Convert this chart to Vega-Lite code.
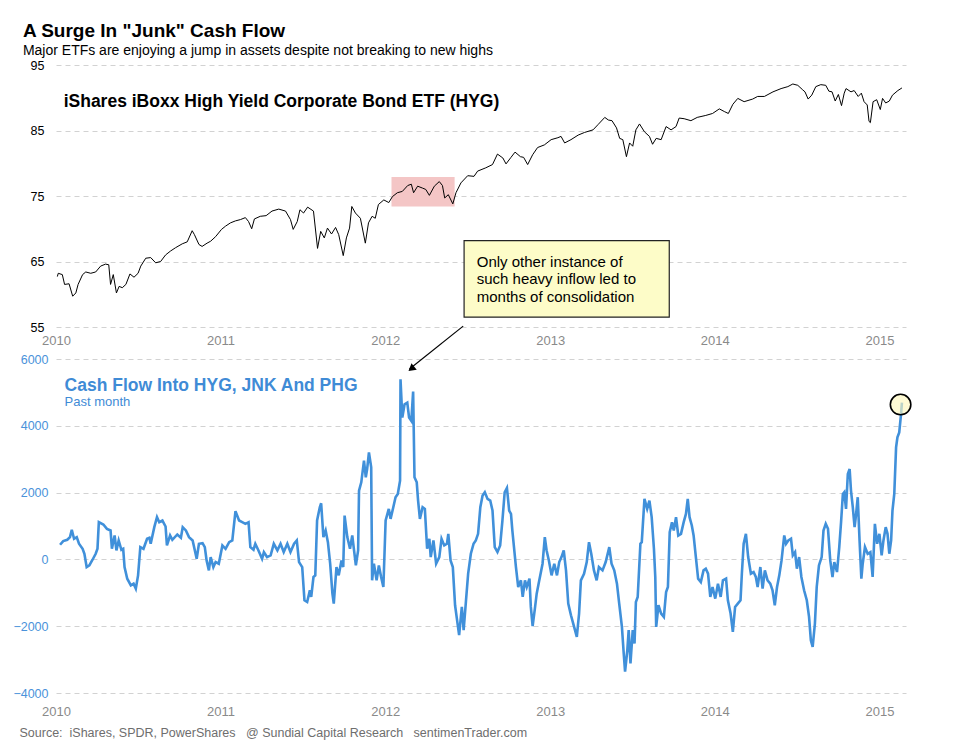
{
  "$schema": "https://vega.github.io/schema/vega-lite/v6.json",
  "description": "HYG price and cash flow into high yield ETFs, 2010-2015.",
  "padding": {"left": 12, "top": 22, "right": 8, "bottom": 10},
  "bounds": "flush",
  "spacing": 32,
  "title": {
    "text": "A Surge In \"Junk\" Cash Flow",
    "subtitle": "Major ETFs are enjoying a jump in assets despite not breaking to new highs",
    "anchor": "start",
    "frame": "bounds",
    "dx": 10,
    "font": "Liberation Sans",
    "fontSize": 19,
    "fontWeight": "bold",
    "color": "#000000",
    "subtitleFont": "Liberation Sans",
    "subtitleFontSize": 14,
    "subtitleColor": "#000000",
    "subtitlePadding": 3,
    "offset": 1
  },
  "datasets": {
    "hyg": [
      {"date": "2010-01-04", "v": 62.7}, {"date": "2010-01-06", "v": 63.2}, {"date": "2010-01-15", "v": 63.0},
      {"date": "2010-01-20", "v": 61.5}, {"date": "2010-01-30", "v": 61.6}, {"date": "2010-02-07", "v": 59.7},
      {"date": "2010-02-14", "v": 60.2}, {"date": "2010-02-19", "v": 61.5}, {"date": "2010-03-01", "v": 63.0},
      {"date": "2010-03-08", "v": 63.4}, {"date": "2010-03-19", "v": 63.2}, {"date": "2010-03-30", "v": 63.4},
      {"date": "2010-04-10", "v": 64.3}, {"date": "2010-04-21", "v": 64.6}, {"date": "2010-04-28", "v": 64.5},
      {"date": "2010-05-02", "v": 61.5}, {"date": "2010-05-08", "v": 63.0}, {"date": "2010-05-15", "v": 60.2},
      {"date": "2010-05-21", "v": 61.2}, {"date": "2010-05-28", "v": 61.0}, {"date": "2010-06-05", "v": 61.5},
      {"date": "2010-06-14", "v": 63.1}, {"date": "2010-06-23", "v": 62.6}, {"date": "2010-07-02", "v": 63.2},
      {"date": "2010-07-08", "v": 64.3}, {"date": "2010-07-19", "v": 65.5}, {"date": "2010-07-30", "v": 65.6},
      {"date": "2010-08-10", "v": 64.8}, {"date": "2010-08-21", "v": 65.0}, {"date": "2010-09-01", "v": 66.0},
      {"date": "2010-09-12", "v": 66.6}, {"date": "2010-09-23", "v": 67.1}, {"date": "2010-10-08", "v": 67.7},
      {"date": "2010-10-19", "v": 68.0}, {"date": "2010-10-30", "v": 69.7}, {"date": "2010-11-04", "v": 69.1},
      {"date": "2010-11-14", "v": 67.6}, {"date": "2010-11-21", "v": 67.3}, {"date": "2010-12-02", "v": 67.8},
      {"date": "2010-12-10", "v": 68.1}, {"date": "2010-12-21", "v": 68.8}, {"date": "2011-01-03", "v": 69.9},
      {"date": "2011-01-12", "v": 70.4}, {"date": "2011-01-23", "v": 70.9}, {"date": "2011-02-03", "v": 71.2},
      {"date": "2011-02-14", "v": 71.4}, {"date": "2011-02-25", "v": 71.7}, {"date": "2011-03-04", "v": 71.1},
      {"date": "2011-03-11", "v": 70.0}, {"date": "2011-03-17", "v": 71.5}, {"date": "2011-03-30", "v": 71.9},
      {"date": "2011-04-12", "v": 72.0}, {"date": "2011-04-25", "v": 72.7}, {"date": "2011-05-10", "v": 73.0},
      {"date": "2011-05-25", "v": 72.7}, {"date": "2011-06-05", "v": 71.4}, {"date": "2011-06-11", "v": 69.9},
      {"date": "2011-06-20", "v": 71.1}, {"date": "2011-06-26", "v": 72.9}, {"date": "2011-07-04", "v": 72.4},
      {"date": "2011-07-13", "v": 73.3}, {"date": "2011-07-26", "v": 72.7}, {"date": "2011-08-04", "v": 67.0},
      {"date": "2011-08-11", "v": 69.6}, {"date": "2011-08-19", "v": 68.6}, {"date": "2011-08-26", "v": 70.1},
      {"date": "2011-09-04", "v": 69.2}, {"date": "2011-09-13", "v": 70.2}, {"date": "2011-09-20", "v": 69.1},
      {"date": "2011-09-30", "v": 65.9}, {"date": "2011-10-07", "v": 68.6}, {"date": "2011-10-14", "v": 70.1},
      {"date": "2011-10-19", "v": 73.4}, {"date": "2011-10-27", "v": 72.4}, {"date": "2011-11-07", "v": 71.6},
      {"date": "2011-11-18", "v": 67.8}, {"date": "2011-11-25", "v": 70.9}, {"date": "2011-12-03", "v": 71.9},
      {"date": "2011-12-10", "v": 71.6}, {"date": "2011-12-17", "v": 73.7}, {"date": "2011-12-29", "v": 74.4},
      {"date": "2012-01-09", "v": 74.0}, {"date": "2012-01-17", "v": 74.9}, {"date": "2012-01-28", "v": 75.5},
      {"date": "2012-02-08", "v": 75.7}, {"date": "2012-02-20", "v": 76.6}, {"date": "2012-02-28", "v": 76.8},
      {"date": "2012-03-04", "v": 75.5}, {"date": "2012-03-13", "v": 76.5}, {"date": "2012-03-24", "v": 76.2},
      {"date": "2012-03-31", "v": 76.0}, {"date": "2012-04-08", "v": 75.1}, {"date": "2012-04-19", "v": 76.5},
      {"date": "2012-04-30", "v": 77.2}, {"date": "2012-05-07", "v": 76.6}, {"date": "2012-05-12", "v": 74.7},
      {"date": "2012-05-20", "v": 75.2}, {"date": "2012-05-30", "v": 73.8}, {"date": "2012-06-06", "v": 75.5},
      {"date": "2012-06-17", "v": 77.0}, {"date": "2012-07-02", "v": 78.1}, {"date": "2012-07-16", "v": 78.0},
      {"date": "2012-07-24", "v": 78.8}, {"date": "2012-08-11", "v": 79.3}, {"date": "2012-08-26", "v": 79.8},
      {"date": "2012-09-06", "v": 81.4}, {"date": "2012-09-18", "v": 80.8}, {"date": "2012-09-25", "v": 79.9},
      {"date": "2012-10-06", "v": 80.9}, {"date": "2012-10-15", "v": 81.7}, {"date": "2012-10-27", "v": 81.0},
      {"date": "2012-11-03", "v": 80.9}, {"date": "2012-11-12", "v": 79.8}, {"date": "2012-11-23", "v": 81.3},
      {"date": "2012-12-04", "v": 82.4}, {"date": "2012-12-19", "v": 82.8}, {"date": "2013-01-03", "v": 83.6},
      {"date": "2013-01-18", "v": 83.9}, {"date": "2013-01-25", "v": 84.1}, {"date": "2013-02-02", "v": 83.1},
      {"date": "2013-02-16", "v": 83.6}, {"date": "2013-03-04", "v": 84.3}, {"date": "2013-03-18", "v": 84.7},
      {"date": "2013-04-06", "v": 85.1}, {"date": "2013-04-17", "v": 85.9}, {"date": "2013-05-02", "v": 87.0},
      {"date": "2013-05-10", "v": 86.6}, {"date": "2013-05-18", "v": 86.5}, {"date": "2013-05-28", "v": 85.4},
      {"date": "2013-06-04", "v": 83.8}, {"date": "2013-06-11", "v": 83.6}, {"date": "2013-06-19", "v": 81.0},
      {"date": "2013-06-26", "v": 83.1}, {"date": "2013-07-03", "v": 82.6}, {"date": "2013-07-10", "v": 85.1},
      {"date": "2013-07-18", "v": 86.0}, {"date": "2013-07-29", "v": 84.8}, {"date": "2013-08-09", "v": 84.1},
      {"date": "2013-08-16", "v": 82.9}, {"date": "2013-08-24", "v": 83.8}, {"date": "2013-09-04", "v": 83.6},
      {"date": "2013-09-15", "v": 85.6}, {"date": "2013-09-26", "v": 85.1}, {"date": "2013-10-07", "v": 85.6},
      {"date": "2013-10-14", "v": 86.9}, {"date": "2013-10-25", "v": 86.8}, {"date": "2013-11-09", "v": 86.5},
      {"date": "2013-11-23", "v": 87.0}, {"date": "2013-12-12", "v": 87.3}, {"date": "2013-12-27", "v": 87.6},
      {"date": "2014-01-11", "v": 88.3}, {"date": "2014-01-22", "v": 87.9}, {"date": "2014-01-31", "v": 87.6},
      {"date": "2014-02-10", "v": 89.0}, {"date": "2014-02-21", "v": 89.9}, {"date": "2014-03-07", "v": 89.4},
      {"date": "2014-03-26", "v": 89.8}, {"date": "2014-04-06", "v": 90.2}, {"date": "2014-04-21", "v": 90.2},
      {"date": "2014-05-10", "v": 90.9}, {"date": "2014-05-28", "v": 91.4}, {"date": "2014-06-12", "v": 91.7},
      {"date": "2014-06-23", "v": 92.1}, {"date": "2014-07-04", "v": 91.9}, {"date": "2014-07-15", "v": 91.2},
      {"date": "2014-07-20", "v": 90.9}, {"date": "2014-07-27", "v": 89.8}, {"date": "2014-08-04", "v": 90.4},
      {"date": "2014-08-13", "v": 91.7}, {"date": "2014-08-24", "v": 92.0}, {"date": "2014-09-04", "v": 91.9},
      {"date": "2014-09-11", "v": 91.0}, {"date": "2014-09-18", "v": 90.9}, {"date": "2014-09-25", "v": 89.5},
      {"date": "2014-10-02", "v": 90.5}, {"date": "2014-10-09", "v": 88.8}, {"date": "2014-10-15", "v": 90.7},
      {"date": "2014-10-19", "v": 91.4}, {"date": "2014-10-30", "v": 90.9}, {"date": "2014-11-06", "v": 91.1},
      {"date": "2014-11-15", "v": 90.2}, {"date": "2014-11-22", "v": 90.7}, {"date": "2014-11-28", "v": 89.4},
      {"date": "2014-12-05", "v": 88.9}, {"date": "2014-12-09", "v": 86.4}, {"date": "2014-12-12", "v": 86.2},
      {"date": "2014-12-18", "v": 89.4}, {"date": "2014-12-26", "v": 89.7}, {"date": "2015-01-03", "v": 88.2},
      {"date": "2015-01-08", "v": 89.9}, {"date": "2015-01-15", "v": 89.2}, {"date": "2015-01-23", "v": 89.5},
      {"date": "2015-01-30", "v": 90.4}, {"date": "2015-02-11", "v": 91.1}, {"date": "2015-02-20", "v": 91.5}
    ],
    "flow": [
      {"date": "2010-01-10", "v": 438}, {"date": "2010-01-17", "v": 547}, {"date": "2010-01-26", "v": 587},
      {"date": "2010-02-01", "v": 667}, {"date": "2010-02-05", "v": 886}, {"date": "2010-02-10", "v": 617},
      {"date": "2010-02-16", "v": 667}, {"date": "2010-02-21", "v": 468}, {"date": "2010-03-01", "v": 318},
      {"date": "2010-03-05", "v": 169}, {"date": "2010-03-10", "v": -229}, {"date": "2010-03-16", "v": -179},
      {"date": "2010-03-23", "v": -10}, {"date": "2010-03-30", "v": 169}, {"date": "2010-04-03", "v": 318},
      {"date": "2010-04-06", "v": 1114}, {"date": "2010-04-16", "v": 1045}, {"date": "2010-04-24", "v": 915},
      {"date": "2010-05-02", "v": 866}, {"date": "2010-05-05", "v": 318}, {"date": "2010-05-11", "v": 716},
      {"date": "2010-05-15", "v": 269}, {"date": "2010-05-20", "v": 567}, {"date": "2010-05-26", "v": 289},
      {"date": "2010-05-30", "v": 318}, {"date": "2010-06-02", "v": -229}, {"date": "2010-06-08", "v": -577},
      {"date": "2010-06-16", "v": -776}, {"date": "2010-06-22", "v": -726}, {"date": "2010-06-27", "v": -876},
      {"date": "2010-07-02", "v": -478}, {"date": "2010-07-07", "v": 368}, {"date": "2010-07-14", "v": 318},
      {"date": "2010-07-22", "v": 617}, {"date": "2010-07-27", "v": 647}, {"date": "2010-07-30", "v": 468},
      {"date": "2010-08-07", "v": 965}, {"date": "2010-08-13", "v": 1264}, {"date": "2010-08-18", "v": 1114},
      {"date": "2010-08-25", "v": 1164}, {"date": "2010-09-01", "v": 985}, {"date": "2010-09-04", "v": 418},
      {"date": "2010-09-11", "v": 716}, {"date": "2010-09-16", "v": 587}, {"date": "2010-09-27", "v": 746},
      {"date": "2010-10-05", "v": 647}, {"date": "2010-10-09", "v": 965}, {"date": "2010-10-16", "v": 866},
      {"date": "2010-10-23", "v": 667}, {"date": "2010-10-31", "v": 567}, {"date": "2010-11-09", "v": 20},
      {"date": "2010-11-14", "v": 468}, {"date": "2010-11-22", "v": 488}, {"date": "2010-11-27", "v": 368},
      {"date": "2010-12-01", "v": -30}, {"date": "2010-12-06", "v": -328}, {"date": "2010-12-10", "v": 70},
      {"date": "2010-12-16", "v": -229}, {"date": "2010-12-21", "v": -80}, {"date": "2010-12-28", "v": -129},
      {"date": "2011-01-05", "v": 418}, {"date": "2011-01-12", "v": 318}, {"date": "2011-01-20", "v": 517},
      {"date": "2011-01-27", "v": 567}, {"date": "2011-02-03", "v": 1443}, {"date": "2011-02-11", "v": 1164},
      {"date": "2011-02-18", "v": 1114}, {"date": "2011-02-25", "v": 1065}, {"date": "2011-03-04", "v": 1114},
      {"date": "2011-03-08", "v": 368}, {"date": "2011-03-15", "v": 289}, {"date": "2011-03-19", "v": 468},
      {"date": "2011-03-26", "v": 269}, {"date": "2011-04-03", "v": 20}, {"date": "2011-04-07", "v": 219},
      {"date": "2011-04-14", "v": 70}, {"date": "2011-04-22", "v": 119}, {"date": "2011-04-29", "v": 468},
      {"date": "2011-05-07", "v": 269}, {"date": "2011-05-14", "v": 468}, {"date": "2011-05-21", "v": 219},
      {"date": "2011-05-29", "v": 468}, {"date": "2011-06-05", "v": 219}, {"date": "2011-06-13", "v": 468},
      {"date": "2011-06-19", "v": 567}, {"date": "2011-06-24", "v": -80}, {"date": "2011-07-01", "v": -229},
      {"date": "2011-07-06", "v": -1224}, {"date": "2011-07-12", "v": -1274}, {"date": "2011-07-18", "v": -925},
      {"date": "2011-07-21", "v": -1124}, {"date": "2011-07-26", "v": -527}, {"date": "2011-07-30", "v": -478},
      {"date": "2011-08-03", "v": 1164}, {"date": "2011-08-09", "v": 1562}, {"date": "2011-08-12", "v": 1682},
      {"date": "2011-08-17", "v": 667}, {"date": "2011-08-22", "v": 866}, {"date": "2011-08-27", "v": 517},
      {"date": "2011-09-01", "v": -129}, {"date": "2011-09-06", "v": -1025}, {"date": "2011-09-09", "v": -1323},
      {"date": "2011-09-15", "v": -229}, {"date": "2011-09-20", "v": -478}, {"date": "2011-09-26", "v": -30},
      {"date": "2011-09-30", "v": -229}, {"date": "2011-10-03", "v": 1313}, {"date": "2011-10-09", "v": 667},
      {"date": "2011-10-15", "v": 318}, {"date": "2011-10-20", "v": 716}, {"date": "2011-10-28", "v": -179},
      {"date": "2011-11-02", "v": 269}, {"date": "2011-11-04", "v": 2060}, {"date": "2011-11-09", "v": 2308},
      {"date": "2011-11-15", "v": 2955}, {"date": "2011-11-19", "v": 2458}, {"date": "2011-11-22", "v": 2706},
      {"date": "2011-11-26", "v": 3204}, {"date": "2011-12-01", "v": 2756}, {"date": "2011-12-03", "v": -627},
      {"date": "2011-12-07", "v": -129}, {"date": "2011-12-13", "v": -627}, {"date": "2011-12-18", "v": -179},
      {"date": "2011-12-23", "v": -527}, {"date": "2011-12-28", "v": -826}, {"date": "2012-01-02", "v": 1164},
      {"date": "2012-01-09", "v": 1512}, {"date": "2012-01-13", "v": 1214}, {"date": "2012-01-19", "v": 1562},
      {"date": "2012-01-24", "v": 1861}, {"date": "2012-01-29", "v": 1960}, {"date": "2012-02-03", "v": 2358},
      {"date": "2012-02-04", "v": 5393}, {"date": "2012-02-08", "v": 4249}, {"date": "2012-02-13", "v": 4647},
      {"date": "2012-02-19", "v": 4696}, {"date": "2012-02-23", "v": 4249}, {"date": "2012-02-28", "v": 4149},
      {"date": "2012-03-03", "v": 5025}, {"date": "2012-03-06", "v": 2458}, {"date": "2012-03-11", "v": 2308},
      {"date": "2012-03-14", "v": 1761}, {"date": "2012-03-18", "v": 1214}, {"date": "2012-03-24", "v": 1562},
      {"date": "2012-03-29", "v": 1512}, {"date": "2012-04-03", "v": 318}, {"date": "2012-04-08", "v": 617},
      {"date": "2012-04-11", "v": 70}, {"date": "2012-04-17", "v": 567}, {"date": "2012-04-23", "v": -129},
      {"date": "2012-04-30", "v": 70}, {"date": "2012-05-05", "v": 617}, {"date": "2012-05-11", "v": 418},
      {"date": "2012-05-17", "v": 468}, {"date": "2012-05-20", "v": 766}, {"date": "2012-05-25", "v": -30},
      {"date": "2012-05-30", "v": -229}, {"date": "2012-06-04", "v": -1373}, {"date": "2012-06-08", "v": -1771},
      {"date": "2012-06-13", "v": -2269}, {"date": "2012-06-19", "v": -1423}, {"date": "2012-06-23", "v": -2119},
      {"date": "2012-06-28", "v": -1274}, {"date": "2012-07-03", "v": -428}, {"date": "2012-07-09", "v": 169},
      {"date": "2012-07-15", "v": 468}, {"date": "2012-07-20", "v": 567}, {"date": "2012-07-25", "v": 766},
      {"date": "2012-07-30", "v": 1562}, {"date": "2012-08-04", "v": 1910}, {"date": "2012-08-09", "v": 2010},
      {"date": "2012-08-15", "v": 1811}, {"date": "2012-08-21", "v": 1761}, {"date": "2012-08-26", "v": 1463},
      {"date": "2012-08-31", "v": 368}, {"date": "2012-09-06", "v": 219}, {"date": "2012-09-12", "v": 418},
      {"date": "2012-09-17", "v": 1164}, {"date": "2012-09-22", "v": 2010}, {"date": "2012-09-27", "v": 2139},
      {"date": "2012-10-02", "v": 1463}, {"date": "2012-10-06", "v": 1363}, {"date": "2012-10-09", "v": 866},
      {"date": "2012-10-17", "v": -229}, {"date": "2012-10-22", "v": -826}, {"date": "2012-10-28", "v": -627},
      {"date": "2012-11-01", "v": -1124}, {"date": "2012-11-06", "v": -627}, {"date": "2012-11-10", "v": -826},
      {"date": "2012-11-16", "v": -577}, {"date": "2012-11-19", "v": -1423}, {"date": "2012-11-23", "v": -2000},
      {"date": "2012-11-28", "v": -1473}, {"date": "2012-12-02", "v": -1025}, {"date": "2012-12-07", "v": -677},
      {"date": "2012-12-15", "v": -129}, {"date": "2012-12-20", "v": 667}, {"date": "2012-12-24", "v": 269},
      {"date": "2012-12-29", "v": -30}, {"date": "2013-01-04", "v": -478}, {"date": "2013-01-10", "v": -129},
      {"date": "2013-01-16", "v": -478}, {"date": "2013-01-21", "v": -80}, {"date": "2013-01-26", "v": 70},
      {"date": "2013-01-31", "v": 269}, {"date": "2013-02-05", "v": -328}, {"date": "2013-02-10", "v": -1323},
      {"date": "2013-02-16", "v": -1672}, {"date": "2013-02-23", "v": -2020}, {"date": "2013-03-01", "v": -2318},
      {"date": "2013-03-06", "v": -1622}, {"date": "2013-03-10", "v": -627}, {"date": "2013-03-17", "v": -428},
      {"date": "2013-03-23", "v": -80}, {"date": "2013-03-28", "v": 517}, {"date": "2013-04-02", "v": 169},
      {"date": "2013-04-08", "v": -328}, {"date": "2013-04-14", "v": -627}, {"date": "2013-04-19", "v": -229},
      {"date": "2013-04-27", "v": -328}, {"date": "2013-05-04", "v": -80}, {"date": "2013-05-12", "v": 368},
      {"date": "2013-05-17", "v": -129}, {"date": "2013-05-23", "v": -328}, {"date": "2013-05-29", "v": -726},
      {"date": "2013-06-03", "v": -1323}, {"date": "2013-06-09", "v": -2020}, {"date": "2013-06-13", "v": -2816},
      {"date": "2013-06-16", "v": -3363}, {"date": "2013-06-21", "v": -2716}, {"date": "2013-06-24", "v": -2119},
      {"date": "2013-06-28", "v": -3114}, {"date": "2013-07-03", "v": -2119}, {"date": "2013-07-07", "v": -2517},
      {"date": "2013-07-10", "v": -1274}, {"date": "2013-07-14", "v": -1124}, {"date": "2013-07-20", "v": 468},
      {"date": "2013-07-23", "v": 517}, {"date": "2013-07-29", "v": 1811}, {"date": "2013-08-04", "v": 1512},
      {"date": "2013-08-09", "v": 1761}, {"date": "2013-08-14", "v": 1264}, {"date": "2013-08-19", "v": 318},
      {"date": "2013-08-22", "v": -527}, {"date": "2013-08-24", "v": -2020}, {"date": "2013-08-29", "v": -1373},
      {"date": "2013-09-04", "v": -1622}, {"date": "2013-09-10", "v": -1721}, {"date": "2013-09-15", "v": -975},
      {"date": "2013-09-19", "v": -826}, {"date": "2013-09-23", "v": 816}, {"date": "2013-09-28", "v": 1114},
      {"date": "2013-10-02", "v": 866}, {"date": "2013-10-07", "v": 1264}, {"date": "2013-10-12", "v": 716},
      {"date": "2013-10-18", "v": 766}, {"date": "2013-10-24", "v": 1114}, {"date": "2013-10-29", "v": 1363},
      {"date": "2013-11-02", "v": 1811}, {"date": "2013-11-06", "v": 1264}, {"date": "2013-11-11", "v": 1015},
      {"date": "2013-11-15", "v": 716}, {"date": "2013-11-20", "v": 70}, {"date": "2013-11-25", "v": -577},
      {"date": "2013-12-01", "v": -677}, {"date": "2013-12-07", "v": -328}, {"date": "2013-12-12", "v": -279},
      {"date": "2013-12-17", "v": -428}, {"date": "2013-12-22", "v": -1124}, {"date": "2013-12-27", "v": -826},
      {"date": "2014-01-02", "v": -1174}, {"date": "2014-01-08", "v": -726}, {"date": "2014-01-14", "v": -1124},
      {"date": "2014-01-19", "v": -627}, {"date": "2014-01-26", "v": -577}, {"date": "2014-01-30", "v": -1224},
      {"date": "2014-02-05", "v": -1622}, {"date": "2014-02-10", "v": -2169}, {"date": "2014-02-15", "v": -1423},
      {"date": "2014-02-21", "v": -1323}, {"date": "2014-02-27", "v": -1224}, {"date": "2014-03-02", "v": -428},
      {"date": "2014-03-06", "v": 468}, {"date": "2014-03-11", "v": 766}, {"date": "2014-03-16", "v": 70},
      {"date": "2014-03-22", "v": -428}, {"date": "2014-03-28", "v": -378}, {"date": "2014-04-02", "v": -527},
      {"date": "2014-04-06", "v": -826}, {"date": "2014-04-12", "v": -229}, {"date": "2014-04-17", "v": -876},
      {"date": "2014-04-22", "v": -328}, {"date": "2014-04-28", "v": -627}, {"date": "2014-05-04", "v": -726},
      {"date": "2014-05-09", "v": -925}, {"date": "2014-05-14", "v": -1373}, {"date": "2014-05-19", "v": -826},
      {"date": "2014-05-24", "v": -478}, {"date": "2014-05-29", "v": -30}, {"date": "2014-06-04", "v": 716},
      {"date": "2014-06-08", "v": 468}, {"date": "2014-06-13", "v": 567}, {"date": "2014-06-19", "v": 617},
      {"date": "2014-06-23", "v": 119}, {"date": "2014-06-28", "v": 219}, {"date": "2014-07-02", "v": -279},
      {"date": "2014-07-07", "v": 70}, {"date": "2014-07-12", "v": -527}, {"date": "2014-07-18", "v": -925},
      {"date": "2014-07-24", "v": -1224}, {"date": "2014-07-29", "v": -1721}, {"date": "2014-08-02", "v": -2418},
      {"date": "2014-08-06", "v": -2617}, {"date": "2014-08-11", "v": -1920}, {"date": "2014-08-15", "v": -826},
      {"date": "2014-08-20", "v": -179}, {"date": "2014-08-26", "v": 70}, {"date": "2014-08-30", "v": 866},
      {"date": "2014-09-04", "v": 1065}, {"date": "2014-09-09", "v": 915}, {"date": "2014-09-14", "v": -30},
      {"date": "2014-09-19", "v": -527}, {"date": "2014-09-23", "v": -80}, {"date": "2014-09-29", "v": -378},
      {"date": "2014-10-04", "v": 368}, {"date": "2014-10-08", "v": 1114}, {"date": "2014-10-12", "v": 1960},
      {"date": "2014-10-15", "v": 2010}, {"date": "2014-10-19", "v": 1512}, {"date": "2014-10-23", "v": 2557},
      {"date": "2014-10-27", "v": 2706}, {"date": "2014-10-30", "v": 2060}, {"date": "2014-11-03", "v": 1562},
      {"date": "2014-11-07", "v": 965}, {"date": "2014-11-10", "v": 1313}, {"date": "2014-11-14", "v": 1861},
      {"date": "2014-11-18", "v": 567}, {"date": "2014-11-22", "v": -577}, {"date": "2014-11-25", "v": -129},
      {"date": "2014-11-30", "v": 368}, {"date": "2014-12-06", "v": 169}, {"date": "2014-12-12", "v": 219},
      {"date": "2014-12-17", "v": -527}, {"date": "2014-12-22", "v": 1065}, {"date": "2014-12-27", "v": 468},
      {"date": "2015-01-01", "v": 766}, {"date": "2015-01-06", "v": 119}, {"date": "2015-01-10", "v": 567},
      {"date": "2015-01-15", "v": 965}, {"date": "2015-01-19", "v": 766}, {"date": "2015-01-23", "v": 169},
      {"date": "2015-01-27", "v": 567}, {"date": "2015-01-30", "v": 1463}, {"date": "2015-02-03", "v": 1960},
      {"date": "2015-02-07", "v": 3353}, {"date": "2015-02-10", "v": 3652}, {"date": "2015-02-14", "v": 3801},
      {"date": "2015-02-18", "v": 4348}, {"date": "2015-02-20", "v": 4696}
    ]
  },
  "vconcat": [
    {
      "width": 850,
      "height": 262,
      "layer": [
        {
          "data": {"values": [{"start": "2012-01-15", "end": "2012-06-03", "lo": 73.4, "hi": 77.9}]},
          "mark": {"type": "rect", "color": "#f4c6c6"},
          "encoding": {
            "x": {"field": "start", "type": "temporal"},
            "x2": {"field": "end"},
            "y": {"field": "lo", "type": "quantitative"},
            "y2": {"field": "hi"}
          }
        },
        {
          "data": {"name": "hyg"},
          "mark": {"type": "line", "color": "#000000", "strokeWidth": 1},
          "encoding": {
            "x": {
              "field": "date", "type": "temporal",
              "scale": {"type": "utc", "domain": [{"year": 2010, "month": 1, "date": 1, "utc": true}, {"year": 2015, "month": 3, "date": 1, "utc": true}]},
              "axis": {"title": null, "format": "%Y", "tickCount": "year", "labelFlush": false, "labelColor": "#8a8a8a", "labelFontSize": 13, "labelPadding": 7}
            },
            "y": {
              "field": "v", "type": "quantitative",
              "scale": {"domain": [55, 95], "nice": false, "zero": false},
              "axis": {"title": null, "values": [55, 65, 75, 85, 95], "labelColor": "#000000", "labelFontSize": 12.5, "labelPadding": 12}
            }
          }
        },
        {
          "data": {"values": [{"a": "2012-06-24", "b": "2013-09-22", "top": 68.2, "bottom": 56.5}]},
          "mark": {"type": "rect", "fill": "#fdfcc8", "stroke": "#222222", "strokeWidth": 1.2},
          "encoding": {
            "x": {"field": "a", "type": "temporal"},
            "x2": {"field": "b"},
            "y": {"field": "top", "type": "quantitative"},
            "y2": {"field": "bottom"}
          }
        },
        {
          "data": {"values": [{"date": "2012-07-22", "v": 64.2, "note": "Only other instance of\nsuch heavy inflow led to\nmonths of consolidation"}]},
          "mark": {"type": "text", "align": "left", "baseline": "alphabetic", "fontSize": 15, "lineHeight": 17.5, "lineBreak": "\n", "color": "#000000", "font": "Liberation Sans"},
          "encoding": {
            "x": {"field": "date", "type": "temporal"},
            "y": {"field": "v", "type": "quantitative"},
            "text": {"field": "note"}
          }
        },
        {
          "data": {"values": [{"date": "2010-01-18", "v": 88.6, "label": "iShares iBoxx High Yield Corporate Bond ETF (HYG)"}]},
          "mark": {"type": "text", "align": "left", "baseline": "alphabetic", "fontSize": 17.5, "fontWeight": "bold", "color": "#000000", "font": "Liberation Sans"},
          "encoding": {
            "x": {"field": "date", "type": "temporal"},
            "y": {"field": "v", "type": "quantitative"},
            "text": {"field": "label"}
          }
        }
      ]
    },
    {
      "width": 850,
      "height": 334,
      "layer": [
        {
          "data": {"name": "flow"},
          "mark": {"type": "line", "color": "#4090da", "strokeWidth": 2.6},
          "encoding": {
            "x": {
              "field": "date", "type": "temporal",
              "scale": {"type": "utc", "domain": [{"year": 2010, "month": 1, "date": 1, "utc": true}, {"year": 2015, "month": 3, "date": 1, "utc": true}]},
              "axis": {
                "title": "Source:\u00a0 iShares, SPDR, PowerShares \u00a0 @ Sundial Capital Research \u00a0 sentimenTrader.com",
                "titleAnchor": "start", "titleAlign": "left", "titleBaseline": "alphabetic",
                "titleX": -37, "titleY": 43, "titleColor": "#6e6e6e", "titleFontSize": 12.5, "titleFontWeight": "normal", "titleFont": "Liberation Sans",
                "format": "%Y", "tickCount": "year", "labelFlush": false, "labelColor": "#8a8a8a", "labelFontSize": 13, "labelPadding": 12
              }
            },
            "y": {
              "field": "v", "type": "quantitative",
              "scale": {"domain": [-4000, 6000], "nice": false},
              "axis": {"title": null, "format": "d", "values": [-4000, -2000, 0, 2000, 4000, 6000], "labelColor": "#4a92da", "labelFontSize": 12.5, "labelPadding": 8}
            }
          }
        },
        {
          "data": {"values": [{"date": "2010-01-20", "v": 5045, "label": "Cash Flow Into HYG, JNK And PHG"}]},
          "mark": {"type": "text", "align": "left", "baseline": "alphabetic", "fontSize": 17.5, "fontWeight": "bold", "color": "#3f8bd6", "font": "Liberation Sans"},
          "encoding": {
            "x": {"field": "date", "type": "temporal"},
            "y": {"field": "v", "type": "quantitative"},
            "text": {"field": "label"}
          }
        },
        {
          "data": {"values": [{"date": "2010-01-20", "v": 4597, "label": "Past month"}]},
          "mark": {"type": "text", "align": "left", "baseline": "alphabetic", "fontSize": 13, "color": "#3f8bd6", "font": "Liberation Sans"},
          "encoding": {
            "x": {"field": "date", "type": "temporal"},
            "y": {"field": "v", "type": "quantitative"},
            "text": {"field": "label"}
          }
        },
        {
          "data": {"values": [{"from": "2012-06-22", "fv": 6985, "to": "2012-02-24", "tv": 5700}]},
          "mark": {"type": "rule", "color": "#000000", "strokeWidth": 1.2},
          "encoding": {
            "x": {"field": "from", "type": "temporal"},
            "y": {"field": "fv", "type": "quantitative"},
            "x2": {"field": "to"},
            "y2": {"field": "tv"}
          }
        },
        {
          "data": {"values": [{"date": "2012-03-01", "v": 5731}]},
          "mark": {"type": "point", "shape": "triangle", "angle": 231, "filled": true, "color": "#000000", "opacity": 1, "size": 70},
          "encoding": {
            "x": {"field": "date", "type": "temporal"},
            "y": {"field": "v", "type": "quantitative"}
          }
        },
        {
          "data": {"values": [{"date": "2015-02-17", "v": 4636}]},
          "mark": {"type": "point", "shape": "circle", "filled": true, "fill": "#fdf8bd", "fillOpacity": 0.65, "stroke": "#000000", "strokeWidth": 1.6, "strokeOpacity": 1, "size": 420},
          "encoding": {
            "x": {"field": "date", "type": "temporal"},
            "y": {"field": "v", "type": "quantitative"}
          }
        }
      ]
    }
  ],
  "config": {
    "font": "Liberation Sans",
    "view": {"stroke": null},
    "axis": {"domain": false, "ticks": false, "grid": false, "labelFont": "Liberation Sans"},
    "axisY": {"grid": true, "gridDash": [5, 4], "gridColor": "#d2d2d2", "gridWidth": 1}
  }
}
